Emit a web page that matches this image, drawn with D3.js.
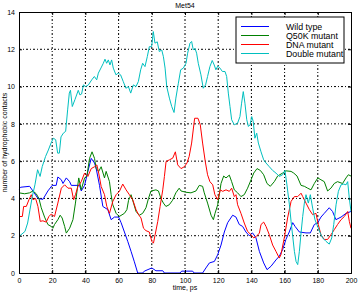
<!DOCTYPE html>
<html lang="en">
<head>
  <meta charset="utf-8">
  <script src="https://d3js.org/d3.v7.min.js"></script>
  <style>
    body { margin: 0; background: #fff; }
    svg { font-family: "Liberation Sans", Arial, sans-serif; }
  </style>
</head>
<body>
  <svg width="358" height="294"></svg>
  <script>
    const title = "Met54";
    const xLabel = "time, ps";
    const yLabel = "number of hydrophobic contacts";
    const xTicks = [0, 20, 40, 60, 80, 100, 120, 140, 160, 180, 200];
    const yTicks = [0, 2, 4, 6, 8, 10, 12, 14];
    const names = ["Wild type", "Q50K mutant", "DNA mutant", "Double mutant"];
    const colors = ["#0000ff", "#008000", "#ff0000", "#00bfbf"];

    // [time, contacts]
    const wildType = [[0, 4.5], [1, 4.6], [6.4, 4.65], [8.4, 4.4], [11.4, 4.0], [14.4, 3.95], [17.4, 4.4],
      [20, 4.7], [22.4, 4.7], [23.4, 5.15], [25.5, 5.0], [26.5, 4.8], [28.5, 5.1], [30.5, 4.9], [31.5, 4.7],
      [36.5, 4.7], [37.5, 4.4], [39.5, 4.7], [41.5, 5.45], [43.5, 6.15], [45.5, 5.9], [46.5, 5.6], [48.5, 4.7],
      [50.5, 3.57], [53.5, 3.4], [55.5, 2.86], [57.5, 3.0], [60, 3.0], [61.5, 2.7], [63.5, 2.2], [65.5, 1.7],
      [67.5, 1.16], [69.5, 0.6], [71.5, 0], [74.5, 0], [75.5, 0.1], [80, 0.27], [82.5, 0.12], [86.6, 0.12],
      [87.6, 0], [97, 0], [98, 0.1], [104.6, 0.1], [105.5, 0], [110.6, 0], [112.6, 0.27], [114.7, 0.54],
      [117.7, 0.62], [119.7, 0.98], [121.7, 1.5], [123.7, 2.2], [125.7, 2.7], [128.7, 3.1], [130.7, 3.0],
      [132.7, 2.6], [134.7, 2.5], [136.7, 2.2], [138.7, 2.0], [140.7, 2.15], [142.7, 1.9], [144.8, 1.16],
      [147.4, 0.54], [149.4, 0.18], [151.8, 0.36], [154.8, 0.7], [156.8, 0.9], [158.8, 1.25], [160.8, 1.8],
      [162.8, 2.2], [164.9, 2.7], [166.3, 2.5], [168.9, 2.2], [172.9, 2.15], [175.5, 2.15], [177.9, 2.6],
      [180, 2.7], [181.9, 3.0], [183.9, 3.2], [186.9, 3.5], [188.9, 3.3], [190.9, 2.86], [194, 3.0],
      [197, 3.2], [200, 3.3]];

    const q50k = [[0, 4.3], [3.4, 4.25], [6.4, 4.3], [8.4, 4.4], [10.4, 4.25], [12, 4.0], [13.4, 3.5],
      [15.4, 3.0], [17.4, 2.6], [19.4, 2.5], [20.4, 2.4], [21.4, 2.6], [23.4, 2.86], [24.8, 3.1], [26, 2.95],
      [27.5, 2.5], [28.5, 2.14], [30.5, 2.4], [32.5, 2.86], [34, 3.75], [36, 5.1], [37.5, 4.46], [39.5, 5.1],
      [40.9, 5.2], [42.5, 6.15], [44, 6.5], [45.5, 6.15], [46.5, 5.6], [48, 5.45], [49.5, 5.7], [51.5, 5.1],
      [52.5, 5.45], [54.5, 4.9], [55.5, 4.2], [56.5, 3.66], [58.5, 3.2], [60.4, 3.03], [63.5, 3.2], [65, 3.4],
      [66, 3.9], [67.5, 4.2], [69, 3.75], [70.5, 3.3], [72.5, 3.1], [74.5, 3.2], [76.5, 3.5], [78, 4.0],
      [79.5, 4.4], [82.5, 4.46], [84, 4.4], [85.5, 4.0], [87, 3.75], [88.5, 3.57], [90.5, 3.66], [92.5, 3.9],
      [94.5, 4.3], [96.5, 4.55], [97.6, 4.4], [100.6, 4.33], [103.6, 4.3], [106.6, 4.4], [108.6, 4.7],
      [110.6, 4.65], [111.6, 4.3], [113.6, 3.75], [115.7, 3.1], [117.1, 2.86], [118.1, 3.2], [119.7, 3.66],
      [121.7, 4.8], [123.3, 5.2], [124.7, 5.1], [126.7, 5.25], [128.1, 4.9], [129.7, 4.46], [131.7, 4.3],
      [133.7, 4.1], [135.7, 4.2], [137.7, 4.55], [139.8, 5.0], [141.4, 5.36], [143.4, 5.6], [145.4, 5.5],
      [147.4, 5.27], [149.4, 4.8], [151.4, 4.65], [153.8, 4.9], [155.8, 5.2], [158.8, 5.36], [160.8, 5.48],
      [163.9, 5.45], [165.5, 5.36], [167.5, 5.2], [169.9, 4.7], [171.9, 4.65], [173.9, 4.55], [175.9, 4.46],
      [177.9, 4.8], [180, 5.1], [181.9, 5.0], [183.9, 4.9], [185.9, 4.4], [187.9, 4.55], [189.9, 4.8],
      [191.9, 4.9], [194.9, 4.8], [197, 5.1], [198.4, 5.27], [200, 5.2]];

    const dnaMutant = [[0, 3.03], [2, 3.03], [2.8, 3.57], [4.4, 3.57], [6, 3.93], [7.4, 4.2], [8.4, 3.93],
      [10, 4.0], [11.4, 3.57], [12.8, 2.77], [14.4, 2.8], [16.4, 2.73], [18, 3.03], [19.4, 3.16], [21.4, 3.03],
      [23.4, 3.75], [25.5, 4.55], [27.5, 4.73], [29.5, 4.55], [31.5, 4.55], [32.9, 3.93], [34, 4.2],
      [35.5, 4.64], [37.5, 4.9], [39.5, 5.36], [41.5, 5.18], [43.5, 5.6], [45.5, 5.7], [46.9, 5.8],
      [48, 5.36], [49.5, 4.64], [51.5, 4.2], [52.9, 3.57], [54.5, 3.2], [56.5, 3.84], [58.5, 4.2],
      [60.5, 4.38], [62.5, 4.77], [64.5, 4.46], [66.5, 4.2], [68.5, 3.93], [70.5, 3.4], [72, 3.13],
      [73.5, 2.95], [75, 2.4], [76.5, 2.27], [78.5, 2.2], [80, 1.7], [81, 1.6], [82, 2.05], [83.6, 2.77],
      [85, 3.57], [86.6, 4.46], [87.6, 5.18], [88.6, 5.98], [90.6, 6.07], [92.6, 6.16], [94.2, 6.5],
      [95.6, 5.8], [97.6, 5.6], [99.6, 5.7], [101.2, 5.9], [102.5, 6.25], [104, 6.97], [105.8, 8.3],
      [107.8, 8.3], [109.2, 7.95], [110.6, 6.97], [112.2, 5.98], [113.6, 5.27], [115, 4.9], [116.7, 4.73],
      [118, 4.2], [119.7, 3.93], [121.3, 4.46], [122.7, 4.38], [124.7, 4.46], [126.7, 4.38], [128.1, 4.55],
      [129.7, 4.1], [130.7, 4.2], [131.7, 3.66], [133.7, 3.2], [135.7, 2.68], [137.7, 2.23], [139.8, 2.05],
      [141.4, 1.88], [142.8, 1.95], [144.8, 2.14], [145.8, 2.6], [147.4, 2.73], [148.8, 2.5], [150.8, 2.05],
      [152.8, 1.5], [154.8, 1.16], [156.8, 0.8], [157.8, 0.98], [159.8, 1.88], [161.8, 2.95], [163.9, 3.84],
      [165.9, 4.1], [167.9, 4.1], [169.9, 4.28], [170.9, 4.1], [172.9, 3.75], [174.9, 3.4], [176.9, 3.13],
      [178.9, 3.2], [180.3, 2.6], [181.9, 2.05], [183.9, 1.8], [185.9, 1.8], [187.9, 2.05], [189.9, 2.32],
      [191.9, 2.6], [194, 2.86], [196, 3.03], [198, 3.3], [199, 2.77], [200, 2.4]];

    const doubleMutant = [[0, 1.96], [3.6, 2.23], [5.2, 2.68], [6.6, 3.39], [8, 4.1], [9.6, 4.73],
      [11.2, 5.54], [12.7, 5.18], [14, 5.71], [16, 6.25], [17.7, 6.6], [19.3, 6.97], [20.7, 7.23],
      [22.1, 7.15], [23.3, 6.43], [24.3, 6.43], [25.3, 7.3], [26.7, 7.5], [28.1, 7.6], [29.3, 8.75],
      [30.3, 9.65], [31, 9.8], [32.1, 8.93], [33.7, 9.3], [34.7, 9.55], [35.7, 9.8], [36.7, 9.55],
      [37.7, 9.6], [38.8, 10.09], [40.2, 10.0], [41.8, 10.09], [43.8, 10.36], [45.4, 10.54], [46.8, 10.36],
      [47.8, 10.72], [49.4, 11.0], [50.8, 11.25], [51.8, 11.47], [52.8, 11.25], [53.8, 11.43], [54.8, 11.16],
      [55.8, 11.43], [56.8, 10.99], [58.4, 10.63], [59.8, 10.72], [61.2, 10.63], [62.8, 10.27], [64.4, 9.91],
      [65.9, 10.0], [67.3, 9.65], [68.9, 10.09], [70.5, 10.0], [71.9, 10.27], [73.3, 10.9], [74.5, 11.25],
      [75.9, 11.07], [77.3, 11.61], [78.5, 12.14], [79.9, 12.14], [80.9, 12.95], [81.9, 12.33], [83.3, 12.4],
      [84.5, 11.88], [86, 11.96], [87, 11.6], [88, 10.99], [89, 10.0], [90.6, 9.38], [92, 8.93], [93.4, 8.61],
      [94.5, 9.38], [96, 10.18], [97.4, 10.9], [99, 10.99], [100.6, 11.25], [101.6, 11.79], [103, 12.33],
      [104, 12.42], [105, 11.96], [106, 12.05], [107, 11.79], [108, 11.25], [109.6, 10.63], [111, 9.91],
      [112.4, 10.09], [113.6, 10.54], [115, 11.07], [116.4, 11.4], [117.6, 11.16], [118.6, 10.9],
      [119.7, 11.1], [121.1, 10.99], [122.5, 10.81], [124.1, 10.81], [125.1, 10.54], [126.1, 9.65],
      [127.1, 8.93], [128.1, 8.22], [129.7, 7.95], [131.7, 8.04], [133.1, 8.39], [134.1, 9.11], [135.1, 9.73],
      [136.1, 9.11], [137.2, 8.22], [138.2, 7.86], [139.2, 7.95], [140.2, 8.39], [141.1, 8.13], [142.1, 7.23],
      [143.2, 7.5], [144.2, 6.97], [145.8, 6.5], [147.4, 6.07], [148.8, 5.9], [150.8, 5.7], [152.8, 5.5],
      [154.8, 5.36], [156.8, 5.18], [158.8, 5.27], [160.2, 5.5], [161.4, 4.73], [162.9, 3.66], [163.9, 2.77],
      [164.9, 1.96], [165.9, 1.16], [166.9, 0.62], [167.9, 0.45], [168.9, 1.16], [169.9, 2.14], [170.9, 3.03],
      [171.9, 3.75], [172.9, 4.2], [174.3, 3.75], [175.5, 4.2], [176.9, 3.48], [178.3, 2.86], [179.9, 2.5],
      [181.5, 2.14], [182.9, 1.88], [184.9, 1.7], [186.9, 1.55], [188.4, 1.88], [189.6, 2.6], [191, 3.66],
      [192.4, 4.38], [194, 4.73], [195.6, 4.77], [197, 4.73], [198, 4.9], [199, 4.0], [200, 3.3]];

    const series = [wildType, q50k, dnaMutant, doubleMutant];

    const svg = d3.select("svg");
    const margin = { left: 19, top: 12, right: 7, bottom: 21 };
    const w = 358 - margin.left - margin.right;
    const h = 294 - margin.top - margin.bottom;

    const x = d3.scaleLinear().domain([0, 200]).range([margin.left, margin.left + w]);
    const y = d3.scaleLinear().domain([0, 14]).range([margin.top + h, margin.top]);

    const g = svg.append("g");

    // grid
    g.selectAll(".gx").data(xTicks.slice(1, -1)).join("line")
      .attr("x1", d => x(d)).attr("x2", d => x(d))
      .attr("y1", y(0)).attr("y2", y(14))
      .attr("stroke", "#000").attr("stroke-width", 1)
      .attr("stroke-dasharray", "2,2,1,2");
    g.selectAll(".gy").data(yTicks.slice(1, -1)).join("line")
      .attr("x1", x(0)).attr("x2", x(200))
      .attr("y1", d => y(d)).attr("y2", d => y(d))
      .attr("stroke", "#000").attr("stroke-width", 1)
      .attr("stroke-dasharray", "2,2,1,2");

    // lines
    const line = d3.line().x(d => x(d[0])).y(d => y(d[1]));
    series.forEach((s, i) => {
      g.append("path").datum(s)
        .attr("d", line)
        .attr("fill", "none")
        .attr("stroke", colors[i])
        .attr("stroke-width", 1);
    });

    // axes (ticks inward on all sides)
    const tk = 3;
    svg.append("g").attr("transform", `translate(0,${y(0)})`)
      .call(d3.axisBottom(x).tickValues(xTicks).tickSize(-tk).tickPadding(5).tickFormat(d3.format("d")));
    svg.append("g").attr("transform", `translate(0,${y(14)})`)
      .call(d3.axisTop(x).tickValues(xTicks).tickSize(-tk).tickFormat(""));
    svg.append("g").attr("transform", `translate(${x(0)},0)`)
      .call(d3.axisLeft(y).tickValues(yTicks).tickSize(-tk).tickPadding(4).tickFormat(d3.format("d")));
    svg.append("g").attr("transform", `translate(${x(200)},0)`)
      .call(d3.axisRight(y).tickValues(yTicks).tickSize(-tk).tickFormat(""));
    svg.selectAll(".domain").attr("stroke", "#000");
    svg.selectAll(".tick line").attr("stroke", "#000");
    svg.selectAll(".tick text").attr("font-size", 7).attr("fill", "#000")
      .attr("font-family", "'Liberation Sans', Arial, sans-serif");

    // titles
    svg.append("text").attr("x", x(100)).attr("y", 8)
      .attr("text-anchor", "middle").attr("font-size", 7).text(title);
    svg.append("text").attr("x", x(100)).attr("y", 290)
      .attr("text-anchor", "middle").attr("font-size", 7).text(xLabel);
    svg.append("text")
      .attr("transform", `translate(7,${y(7)}) rotate(-90)`)
      .attr("text-anchor", "middle").attr("font-size", 7).text(yLabel);

    // legend
    const lg = svg.append("g").attr("transform", "translate(236,17)");
    lg.append("rect").attr("width", 108).attr("height", 46)
      .attr("fill", "#fff").attr("stroke", "#000");
    names.forEach((n, i) => {
      const yy = 9.5 + i * 9;
      lg.append("line").attr("x1", 5).attr("x2", 33).attr("y1", yy).attr("y2", yy)
        .attr("stroke", colors[i]).attr("stroke-width", 1);
      lg.append("text").attr("x", 50).attr("y", yy + 3)
        .attr("font-size", 8.8).text(n);
    });
  </script>
</body>
</html>
